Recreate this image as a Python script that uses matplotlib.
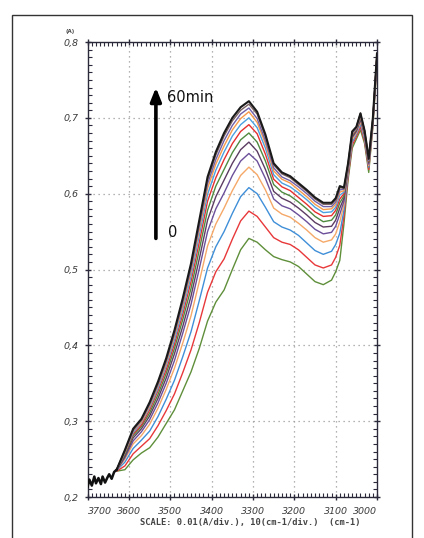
import matplotlib
matplotlib.use("Agg")
import matplotlib.pyplot as plt
from matplotlib.ticker import MultipleLocator
from matplotlib.patches import Rectangle

# ---------------- data ----------------
noise_wn = [3700, 3696, 3690, 3684, 3680, 3674, 3668, 3664, 3658, 3652, 3648, 3642, 3636, 3630]
noise_abs = [0.214, 0.223, 0.215, 0.227, 0.218, 0.225, 0.217, 0.227, 0.219, 0.226, 0.230, 0.224, 0.233, 0.236]

wavenumber = [3630, 3610, 3590, 3570, 3550, 3530, 3510, 3490, 3470, 3450, 3430, 3410, 3390,
              3370, 3350, 3330, 3310, 3290, 3270, 3250, 3230, 3210, 3190, 3170, 3150, 3130,
              3110, 3100, 3090, 3080, 3070, 3060, 3050, 3040, 3030, 3020, 3010, 3000]

abs_00 = [.234, .236, .249, .258, .265, .279, .297, .315, .340, .365, .396, .432, .457, .473, .500, .526, .541, .536, .526, .517, .513, .510, .504, .494, .484, .480, .486, .497, .512, .560, .618, .660, .672, .684, .666, .628, .688, .772]
abs_05 = [.234, .241, .257, .267, .277, .294, .314, .336, .364, .394, .430, .470, .497, .514, .540, .564, .577, .570, .556, .542, .536, .533, .526, .516, .506, .502, .506, .516, .532, .570, .622, .664, .675, .688, .669, .632, .690, .775]
abs_10 = [.235, .246, .264, .275, .287, .306, .329, .354, .385, .418, .459, .502, .530, .550, .574, .596, .608, .600, .582, .563, .556, .552, .545, .535, .525, .520, .524, .533, .548, .578, .626, .668, .678, .692, .672, .635, .692, .777]
abs_15 = [.235, .250, .270, .281, .296, .317, .342, .370, .403, .439, .484, .531, .560, .581, .604, .624, .635, .625, .605, .581, .573, .569, .561, .552, .542, .536, .539, .547, .563, .585, .629, .671, .680, .695, .675, .637, .694, .779]
abs_20 = [.235, .252, .274, .286, .302, .324, .350, .380, .416, .454, .501, .550, .580, .601, .624, .643, .653, .643, .620, .593, .584, .580, .572, .563, .553, .547, .549, .557, .573, .590, .632, .674, .682, .698, .677, .639, .695, .780]
abs_25 = [.235, .254, .278, .290, .307, .330, .357, .389, .425, .465, .514, .565, .596, .618, .640, .658, .668, .656, .632, .603, .594, .589, .581, .572, .562, .556, .557, .565, .581, .594, .633, .675, .683, .699, .678, .641, .696, .781]
abs_30 = [.236, .256, .281, .293, .311, .335, .363, .396, .434, .475, .526, .578, .610, .632, .654, .671, .680, .668, .643, .612, .602, .597, .589, .580, .570, .563, .565, .572, .588, .597, .635, .677, .684, .701, .679, .642, .697, .782]
abs_35 = [.236, .258, .283, .295, .315, .340, .368, .402, .441, .484, .536, .590, .621, .645, .666, .682, .691, .679, .652, .619, .609, .604, .595, .586, .576, .570, .571, .578, .593, .600, .636, .678, .685, .702, .680, .643, .698, .783]
abs_40 = [.236, .259, .285, .298, .318, .343, .373, .407, .447, .491, .545, .599, .631, .655, .676, .691, .700, .687, .660, .625, .614, .609, .601, .592, .582, .575, .576, .582, .598, .602, .637, .679, .686, .703, .681, .644, .699, .783]
abs_45 = [.236, .260, .287, .299, .320, .346, .376, .412, .452, .497, .552, .607, .639, .663, .684, .699, .708, .694, .666, .630, .619, .614, .605, .596, .586, .579, .580, .586, .602, .604, .638, .680, .687, .704, .682, .645, .699, .784]
abs_50 = [.236, .261, .288, .301, .322, .348, .379, .415, .456, .501, .557, .613, .645, .670, .690, .705, .713, .699, .670, .634, .622, .617, .609, .600, .590, .583, .583, .589, .605, .606, .639, .681, .687, .705, .682, .645, .699, .784]
abs_55 = [.236, .261, .289, .302, .324, .350, .381, .418, .460, .505, .562, .618, .651, .676, .696, .710, .718, .705, .675, .638, .626, .621, .612, .603, .593, .586, .586, .592, .608, .607, .640, .682, .688, .706, .683, .646, .700, .785]
abs_60 = [.236, .262, .290, .303, .325, .352, .383, .420, .462, .508, .565, .622, .655, .680, .700, .714, .722, .708, .678, .640, .628, .623, .614, .605, .595, .588, .588, .594, .610, .608, .640, .682, .688, .706, .683, .646, .700, .785]

curves = [abs_00, abs_05, abs_10, abs_15, abs_20, abs_25, abs_30,
          abs_35, abs_40, abs_45, abs_50, abs_55, abs_60]
curve_colors = ["#5f8f3a", "#e8383a", "#3f8fd8", "#f5a868", "#6b4f9a", "#5c3c62",
                "#4f8a3f", "#e5302f", "#4aa0e0", "#f59a4a", "#7060a8", "#7a6060", "#1a1a1a"]

x_ticks = [3700, 3600, 3500, 3400, 3300, 3200, 3100, 3000]
x_labels = ["3700", "3600", "3500", "3400", "3300", "3200", "3100", "3000"]
y_ticks = [0.2, 0.3, 0.4, 0.5, 0.6, 0.7, 0.8]
y_labels = ["0,2", "0,3", "0,4", "0,5", "0,6", "0,7", "0,8"]

# ---------------- figure ----------------
fig = plt.figure(figsize=(4.24, 5.38), dpi=100)
fig.patch.set_facecolor("white")

# outer frame
fig.patches.append(Rectangle((12 / 424, -0.02), 400 / 424, 1 - 15 / 538 + 0.02,
                             transform=fig.transFigure, fill=False,
                             edgecolor="#333333", linewidth=1.0))

ax = fig.add_axes([87.7 / 424, 1 - 497 / 538, (377 - 87.7) / 424, (497 - 42) / 538])
ax.set_xlim(3700, 3000)
ax.set_ylim(0.2, 0.8)

# grid
for gx in x_ticks[1:-1]:
    ax.axvline(gx, color="#9a9a9a", linestyle=(0, (1, 3)), linewidth=0.9, zorder=0)
for gy in y_ticks[1:-1]:
    ax.axhline(gy, color="#9a9a9a", linestyle=(0, (1, 3)), linewidth=0.9, zorder=0)

# curves
for vals, col in zip(curves, curve_colors):
    lw = 1.5 if col == "#1a1a1a" else 1.0
    ax.plot(wavenumber, vals, color=col, linewidth=lw, zorder=3)
ax.plot(noise_wn, noise_abs, color="#111111", linewidth=1.8, zorder=4)

# spines
for s in ax.spines.values():
    s.set_color("#2a2a3a")
    s.set_linewidth(1.0)

# ticks
ax.set_xticks(x_ticks)
ax.set_xticklabels(x_labels)
ax.set_yticks(y_ticks)
ax.set_yticklabels(y_labels)
ax.xaxis.set_minor_locator(MultipleLocator(10))
ax.yaxis.set_minor_locator(MultipleLocator(0.01))
ax.tick_params(axis="both", which="major", direction="inout", length=5, width=1.0,
               color="#2a2a3a", top=True, right=True)
ax.tick_params(axis="both", which="minor", direction="in", length=3, width=0.8,
               color="#2a2a3a", top=True, right=True)
ax.tick_params(axis="x", which="major", pad=5, labelsize=6.8, labelcolor="#3a3a3a")
ax.tick_params(axis="y", which="major", pad=4, labelsize=6.8, labelcolor="#3a3a3a")
for lab in ax.get_xticklabels():
    lab.set_family(["Liberation Sans Narrow", "DejaVu Sans"])
    lab.set_style("italic")
for lab in ax.get_yticklabels():
    lab.set_family(["DejaVu Sans"])
    lab.set_style("italic")
xl = ax.get_xticklabels()
xl[0].set_horizontalalignment("left")
xl[-1].set_horizontalalignment("right")

# (A) unit marker
fig.text(66 / 424, 1 - 31 / 538, "(A)", fontsize=4, color="#444444",
         ha="left", va="center", fontweight="bold")

# scale note
fig.text(140 / 424, 1 - 523 / 538, "SCALE: 0.01(A/div.), 10(cm-1/div.)  (cm-1)",
         fontsize=6.3, family="DejaVu Sans Mono", fontweight="bold",
         color="#444444", ha="left", va="center")

# arrow
ax.annotate("", xy=(3535, 0.740), xytext=(3535, 0.541),
            arrowprops=dict(arrowstyle="-|>,head_length=0.8,head_width=0.32",
                            color="black", linewidth=2.6, shrinkA=0, shrinkB=0),
            zorder=6)
ax.text(3508, 0.727, "60min", fontsize=10.5, color="#111111", ha="left", va="center")
ax.text(3505, 0.549, "0", fontsize=10.5, color="#111111", ha="left", va="center")

fig.savefig("out.png", dpi=100)
